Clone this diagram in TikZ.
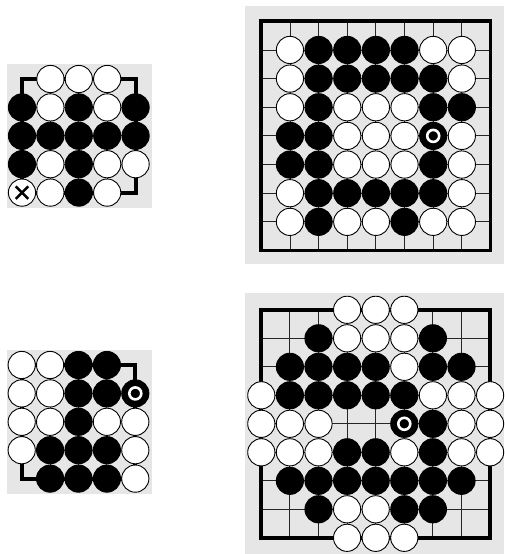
\documentclass[tikz,border=0pt]{standalone}
\definecolor{boardgray}{RGB}{230,230,230}
\tikzset{
 wstone/.style={fill=white,draw=black,line width=0.9pt},
 bstone/.style={fill=black,draw=black,line width=0.9pt},
 gridline/.style={draw=black!85,line width=0.85pt},
 edgeline/.style={draw=black,line width=3.8pt,line join=miter},
 markring/.style={draw=white,line width=2.6pt},
 xmark/.style={draw=black,line width=2.4pt},
 boardbg/.style={fill=boardgray}
}
\newcommand\gostoneW[2]{\draw[wstone] (#1,#2) circle[radius=13.6pt];}
\newcommand\gostoneB[2]{\draw[bstone] (#1,#2) circle[radius=13.6pt];}
\newcommand\gostoneM[2]{\draw[bstone] (#1,#2) circle[radius=13.6pt]; \draw[markring] (#1,#2) circle[radius=6pt];}
\newcommand\gostoneX[2]{\draw[wstone] (#1,#2) circle[radius=13.6pt];
 \draw[xmark] (#1,#2) ++(-6.3pt,-6.3pt) -- ++(12.6pt,12.6pt) (#1,#2) ++(-6.3pt,6.3pt) -- ++(12.6pt,-12.6pt);}
\newcommand\gostoneE[2]{}
\newcommand\gorow[2]{\foreach \gc [count=\gi from 0] in {#2} {\csname gostone\gc\endcsname{\gi}{#1}}}
\newcommand\gogrid[1]{%
 \foreach \k in {0,...,#1} {\draw[gridline] (\k,0) -- (\k,#1); \draw[gridline] (0,\k) -- (#1,\k);}
 \draw[edgeline] (0,0) rectangle (#1,#1);}
\begin{document}
\begin{tikzpicture}[x=1pt,y=-1pt]
\useasboundingbox (0,0) rectangle (504,554);
% backgrounds
\fill[boardbg] (6.5,63.5) rectangle (151.5,208);
\fill[boardbg] (245,5.7) rectangle (503.5,263.5);
\fill[boardbg] (6.5,349.5) rectangle (151.5,494);
\fill[boardbg] (245,293.3) rectangle (503.5,553.5);
% top-left board
\begin{scope}[shift={(22pt,-79pt)},x=28.4pt,y=-28.4pt]
 \gogrid{4}
 \gorow{0}{E,W,W,W,E}
 \gorow{1}{B,W,B,W,B}
 \gorow{2}{B,B,B,B,B}
 \gorow{3}{B,W,B,W,W}
 \gorow{4}{X,W,B,W,E}
\end{scope}
% top-right board
\begin{scope}[shift={(261.3pt,-21.3pt)},x=28.65pt,y=-28.65pt]
 \gogrid{8}
 \gorow{1}{E,W,B,B,B,B,W,W,E}
 \gorow{2}{E,W,B,B,B,B,B,W,E}
 \gorow{3}{E,W,B,W,W,W,B,B,E}
 \gorow{4}{E,B,B,W,W,W,M,W,E}
 \gorow{5}{E,B,B,W,W,W,B,W,E}
 \gorow{6}{E,W,B,B,B,B,B,W,E}
 \gorow{7}{E,W,B,W,W,B,W,W,E}
\end{scope}
% bottom-left board
\begin{scope}[shift={(21.7pt,-365pt)},x=28.4pt,y=-28.4pt]
 \gogrid{4}
 \gorow{0}{W,W,B,B,E}
 \gorow{1}{W,W,B,B,M}
 \gorow{2}{W,W,B,W,W}
 \gorow{3}{W,B,B,B,W}
 \gorow{4}{E,B,B,B,W}
\end{scope}
% bottom-right board
\begin{scope}[shift={(261.3pt,-309.8pt)},x=28.6pt,y=-28.5pt]
 \gogrid{8}
 \gorow{0}{E,E,E,W,W,W,E,E,E}
 \gorow{1}{E,E,B,W,W,W,B,E,E}
 \gorow{2}{E,B,B,B,B,W,B,B,E}
 \gorow{3}{W,B,B,B,B,B,W,W,W}
 \gorow{4}{W,W,W,E,E,M,B,W,W}
 \gorow{5}{W,W,W,B,B,W,B,W,W}
 \gorow{6}{E,B,B,B,B,B,B,B,E}
 \gorow{7}{E,E,B,W,W,B,B,E,E}
 \gorow{8}{E,E,E,W,W,W,E,E,E}
\end{scope}
\end{tikzpicture}
\end{document}
